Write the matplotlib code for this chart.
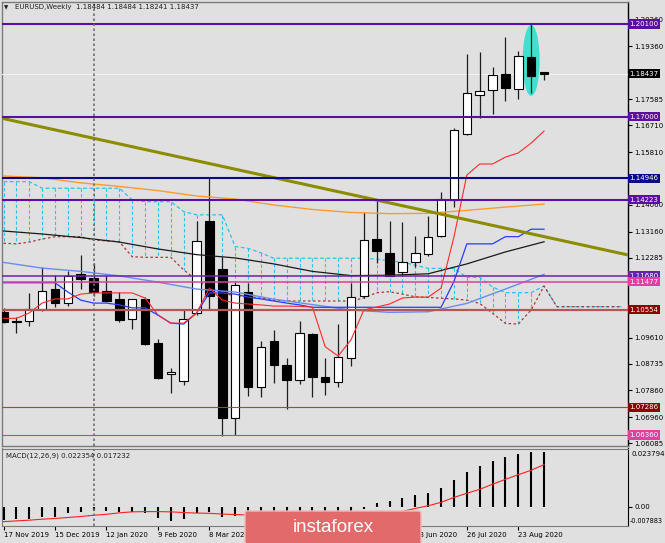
import matplotlib
matplotlib.use("Agg")
import matplotlib.pyplot as plt
import matplotlib.transforms as mtransforms
from matplotlib.patches import Rectangle, Ellipse, FancyBboxPatch

# ---------------- data ----------------
opens = [1.1048, 1.1017, 1.1018, 1.1056, 1.1123, 1.1078, 1.1173, 1.1160, 1.1116, 1.1092,
         1.1025, 1.1092, 1.0942, 1.0839, 1.0815, 1.1043, 1.1350, 1.1190, 1.0694, 1.1115,
         1.0798, 1.0950, 1.0870, 1.0820, 1.0974, 1.0831, 1.0814, 1.0892, 1.1102, 1.1290,
         1.1246, 1.1182, 1.1215, 1.1241, 1.1302, 1.1422, 1.1642, 1.1773, 1.1789, 1.1843,
         1.1793, 1.1901, 1.18484]
highs = [1.1060, 1.1031, 1.1112, 1.1197, 1.1172, 1.1185, 1.1237, 1.1212, 1.1170, 1.1115,
         1.1092, 1.1098, 1.0956, 1.0861, 1.1054, 1.1352, 1.1494, 1.1232, 1.1147, 1.1143,
         1.0951, 1.0987, 1.0892, 1.1017, 1.0976, 1.0893, 1.1007, 1.1143, 1.1383, 1.1422,
         1.1352, 1.1347, 1.1301, 1.1369, 1.1449, 1.1662, 1.1910, 1.1915, 1.1865, 1.1968,
         1.1921, 1.2011, 1.18484]
lows = [1.1010, 1.0978, 1.1000, 1.1052, 1.1063, 1.1067, 1.1125, 1.1101, 1.1082, 1.1015,
        1.0989, 1.0937, 1.0822, 1.0775, 1.0802, 1.1036, 1.1054, 1.0634, 1.0636, 1.0766,
        1.0764, 1.0809, 1.0722, 1.0805, 1.0762, 1.0770, 1.0798, 1.0867, 1.1093, 1.1210,
        1.1166, 1.1169, 1.1198, 1.1236, 1.1299, 1.1399, 1.1639, 1.1695, 1.1709, 1.1754,
        1.1759, 1.1780, 1.18241]
closes = [1.1015, 1.1014, 1.1056, 1.1116, 1.1078, 1.1169, 1.1156, 1.1115, 1.1085, 1.1020,
          1.1090, 1.0940, 1.0827, 1.0846, 1.1025, 1.1284, 1.1102, 1.0692, 1.1138, 1.0798,
          1.0931, 1.0870, 1.0820, 1.0978, 1.0831, 1.0814, 1.0898, 1.1097, 1.1288, 1.1252,
          1.1169, 1.1215, 1.1246, 1.1299, 1.1425, 1.1656, 1.1778, 1.1786, 1.1840, 1.1797,
          1.1904, 1.1836, 1.18437]

tenkan = [1.1026, 1.1026, 1.1044, 1.1077, 1.1091, 1.1091, 1.1107, 1.1111, 1.1111, 1.1111,
          1.1111, 1.1094, 1.1037, 1.1010, 1.1010, 1.1044, 1.1127, 1.1087, 1.1077, 1.1074,
          1.1071, 1.1067, 1.1067, 1.1066, 1.1064, 1.0931, 1.0900, 1.0954, 1.1054, 1.1064,
          1.1074, 1.1094, 1.1097, 1.1097, 1.1127, 1.1298, 1.1505, 1.1542, 1.1542, 1.1565,
          1.1579, 1.1612, 1.1652]
kijun = [1.1145, 1.1145, 1.1145, 1.1145, 1.1145, 1.1114, 1.1087, 1.1077, 1.1077, 1.1071,
         1.1061, 1.1061, 1.1037, 1.1010, 1.1007, 1.1044, 1.1111, 1.1111, 1.1107, 1.1097,
         1.1091, 1.1084, 1.1077, 1.1071, 1.1063, 1.1063, 1.1063, 1.1063, 1.1063, 1.1063,
         1.1063, 1.1063, 1.1063, 1.1063, 1.1063, 1.1149, 1.1275, 1.1275, 1.1275, 1.1299,
         1.1299, 1.1324, 1.1324]

span_a = [1.1483, 1.1483, 1.1483, 1.1461, 1.1461, 1.1461, 1.1461, 1.1461, 1.1461, 1.1461,
          1.1422, 1.1416, 1.1416, 1.1416, 1.1383, 1.1372, 1.1372, 1.1372, 1.1266, 1.1260,
          1.1245, 1.1227, 1.1227, 1.1227, 1.1227, 1.1227, 1.1227, 1.1227, 1.1227, 1.1224,
          1.1218, 1.1214, 1.1204, 1.1193, 1.1193, 1.1193, 1.1163, 1.1163, 1.1131, 1.1112,
          1.1112, 1.1112, 1.1134, 1.1065, 1.1065, 1.1065, 1.1065, 1.1065, 1.1065]
span_b = [1.1277, 1.1275, 1.1281, 1.1291, 1.1299, 1.1299, 1.1299, 1.1288, 1.1285, 1.1282,
          1.1232, 1.1230, 1.1230, 1.1230, 1.1188, 1.1154, 1.1127, 1.1111, 1.1101, 1.1098,
          1.1094, 1.1087, 1.1084, 1.1084, 1.1084, 1.1084, 1.1084, 1.1084, 1.1094, 1.1112,
          1.1115, 1.1107, 1.1098, 1.1096, 1.1093, 1.1091, 1.1087, 1.1076, 1.1043, 1.1009,
          1.1007, 1.1054, 1.1134, 1.1065, 1.1065, 1.1065, 1.1065, 1.1065, 1.1065]

ma_idx = [0, 3, 6, 9, 12, 15, 18, 21, 24, 27, 30, 33, 36, 39, 42]
ma_light = [1.1213, 1.1194, 1.1183, 1.1168, 1.1147, 1.1124, 1.1114, 1.1090, 1.1072, 1.1054,
            1.1046, 1.1048, 1.1076, 1.1124, 1.1173]
ma_black = [1.1318, 1.1308, 1.1296, 1.1281, 1.1258, 1.1239, 1.1228, 1.1208, 1.1183, 1.1169,
            1.1170, 1.1175, 1.1208, 1.1248, 1.1282]
ma_orange = [1.1502, 1.1496, 1.1479, 1.1467, 1.1453, 1.1435, 1.1425, 1.1405, 1.1390, 1.1380,
             1.1376, 1.1377, 1.1387, 1.1398, 1.1408]

trend_x = [-0.14, 48.52]
trend_y = [1.1695, 1.1238]

macd_main = [-0.0054, -0.0052, -0.0049, -0.0044, -0.0041, -0.0025, -0.0020, -0.0018, -0.0018, -0.0023,
             -0.0020, -0.0027, -0.0045, -0.0059, -0.0052, -0.0025, -0.0020, -0.0044, -0.0036, -0.0040,
             -0.0042, -0.0040, -0.0038, -0.0035, -0.0030, -0.0028, -0.0025, -0.0018, -0.0009, 0.0014,
             0.0023, 0.0037, 0.0048, 0.0057, 0.0075, 0.0109, 0.0140, 0.0166, 0.0188, 0.0202,
             0.0214, 0.0225, 0.022354]
macd_signal = [-0.0061, -0.0058, -0.0055, -0.0051, -0.0048, -0.0044, -0.0040, -0.0035, -0.0031, -0.0025,
               -0.0021, -0.0020, -0.0020, -0.0021, -0.0024, -0.0026, -0.0027, -0.0030, -0.0032, -0.0034,
               -0.0036, -0.0037, -0.0038, -0.0037, -0.0036, -0.0036, -0.0034, -0.0031, -0.0028, -0.0025,
               -0.0022, -0.0019, -0.0007, 0.0004, 0.0018, 0.0038, 0.0055, 0.0071, 0.0092, 0.0112,
               0.0131, 0.0149, 0.017232]

levels = [1.20100, 1.17000, 1.14946, 1.14223, 1.11680, 1.11477, 1.10554, 1.07286, 1.06360]
level_colors = ['#5a0fa0', '#5a0fa0', '#0a0a88', '#5a0fa0', '#6a22aa', '#d8409c', '#b05858', '#c03a3a', '#c8409c']
level_widths = [1.5, 1.5, 1.5, 1.5, 1.1, 1.1, 1.6, 0.8, 0.8]
box_colors = ['#5a0fa0', '#5a0fa0', '#0a0a88', '#5a0fa0', '#6a22aa', '#e040a0', '#8b0000', '#8b0000', '#e040a0']
current_price = 1.18437

price_ticks = [1.20260, 1.19360, 1.17585, 1.16710, 1.15810, 1.14060, 1.13160,
               1.12285, 1.09610, 1.08735, 1.07860, 1.06960, 1.06085]
date_ticks = [0, 4, 8, 12, 16, 20, 24, 28, 32, 36, 40]
date_labels = ['17 Nov 2019', '15 Dec 2019', '12 Jan 2020', '9 Feb 2020', '8 Mar 2020', '5 Apr 2020',
               '3 May 2020', '31 May 2020', '28 Jun 2020', '26 Jul 2020', '23 Aug 2020']
highlight_bar = 41
separator_bar = 7

# ---------------- figure ----------------
W, H = 665, 543
BG = '#e0e0e0'
fig = plt.figure(figsize=(W / 100, H / 100), dpi=100, facecolor=BG)
XL, XR = -0.1166, 48.524

ax = fig.add_axes([2 / W, 1 - 446 / H, 626 / W, 444 / H], facecolor=BG)
ax.set_xlim(XL, XR)
ax.set_ylim(1.05993, 1.20835)
ax.set_xticks([])
ax.yaxis.tick_right()
ax.set_yticks(price_ticks)
ax.set_yticklabels([f'{t:.5f}' for t in price_ticks])
ax.tick_params(axis='y', direction='out', length=3, width=0.8, pad=1.5, labelsize=5, colors='black')
for s in ['left', 'top', 'bottom']:
    ax.spines[s].set_color('#7a7a7a')
    ax.spines[s].set_linewidth(1.0)
ax.spines['right'].set_color('black')
ax.spines['right'].set_linewidth(1.0)

n = len(opens)
n_cloud = len(span_a)

# cloud
cyan = '#30c0f0'
for i in range(n_cloud):
    ax.plot([i, i], [span_a[i], span_b[i]], color=cyan, lw=0.8, ls=(0, (3, 2)), zorder=2)
ax.plot(range(n_cloud), span_a, color=cyan, lw=0.9, ls=(0, (3, 2)), zorder=2.1)
ax.plot(range(n_cloud), span_b, color='#a03a3a', lw=0.9, ls=(0, (2, 2)), zorder=2.1)

# current price line + highlight ellipse
ax.axhline(current_price, color='#f2f2fb', lw=0.8, zorder=3)
ax.add_patch(Ellipse((highlight_bar, 1.1888), width=1.32, height=0.0237,
                     facecolor='#40e0d0', edgecolor='none', zorder=3.5))

# candles
bw = 0.66
for i in range(n):
    o, h, l, c = opens[i], highs[i], lows[i], closes[i]
    ax.vlines(i, l, h, color='#1e1e1e', lw=0.9, zorder=4)
    bottom = min(o, c)
    height = max(abs(c - o), 0.00025)
    fc = 'white' if c >= o else 'black'
    ax.add_patch(Rectangle((i - bw / 2, bottom), bw, height, facecolor=fc,
                           edgecolor='black', lw=0.8, zorder=4.2))

# moving averages and ichimoku lines
ax.plot(ma_idx, ma_orange, color='#ff9a30', lw=1.0, zorder=5)
ax.plot(ma_idx, ma_black, color='#1a1a1a', lw=0.9, zorder=5)
ax.plot(ma_idx, ma_light, color='#6a8cf0', lw=1.0, zorder=5)
ax.plot(range(n), kijun, color='#2a3cff', lw=0.9, zorder=5.2)
ax.plot(range(n), tenkan, color='#ff2a2a', lw=0.8, zorder=5.3)

# trend line
ax.plot(trend_x, trend_y, color='#8c8c00', lw=2.2, zorder=6, solid_capstyle='butt')

# horizontal levels
tr = mtransforms.blended_transform_factory(ax.transAxes, ax.transData)
for lv, col, lw in zip(levels, level_colors, level_widths):
    ax.axhline(lv, color=col, lw=lw, zorder=6)
for lv, bc in zip(levels, box_colors):
    ax.text(1.0025, lv, f'{lv:.5f}', transform=tr, fontsize=5, color='white', va='center', ha='left',
            bbox=dict(boxstyle='square,pad=0.22', fc=bc, ec='none'), zorder=20, clip_on=False)
ax.text(1.0025, current_price, f'{current_price:.5f}', transform=tr, fontsize=5, color='white',
        va='center', ha='left', bbox=dict(boxstyle='square,pad=0.22', fc='black', ec='none'),
        zorder=20, clip_on=False)

ax.axvline(separator_bar, color='#6e6e6e', lw=1.2, ls=(0, (1.5, 1.5)), zorder=7)

# ---------------- MACD panel ----------------
ax2 = fig.add_axes([2 / W, 1 - 526 / H, 626 / W, 77.5 / H], facecolor=BG)
ax2.set_xlim(XL, XR)
ax2.set_ylim(-0.007883, 0.023794)
ax2.vlines(range(n), 0, macd_main, color='black', lw=1.5, zorder=3)
ax2.plot(range(n), macd_signal, color='#ff2020', lw=0.8, zorder=4)
ax2.axvline(separator_bar, color='#6e6e6e', lw=1.2, ls=(0, (1.5, 1.5)), zorder=5)
ax2.yaxis.tick_right()
ax2.set_yticks([0.0])
ax2.set_yticklabels(['0.00'])
ax2.tick_params(axis='y', direction='out', length=3, width=0.8, pad=1.5, labelsize=5, colors='black')
ax2.set_xticks(date_ticks)
ax2.set_xticklabels(date_labels)
for lab in ax2.get_xticklabels():
    lab.set_ha('left')
ax2.tick_params(axis='x', direction='out', length=3, width=0.8, pad=1.5, labelsize=5, colors='black')
for s in ['left', 'top', 'bottom']:
    ax2.spines[s].set_color('#7a7a7a')
ax2.spines['right'].set_color('black')
ax2.text(1.006, 1 - 2.5 / 77.5, '0.023794', transform=ax2.transAxes, fontsize=5, va='top', ha='left',
         clip_on=False)
ax2.text(1.002, 0.02, '-0.007883', transform=ax2.transAxes, fontsize=4.7, va='bottom', ha='left',
         clip_on=False)
fig.text(6 / W, 1 - 456 / H, 'MACD(12,26,9) 0.022354 0.017232', fontsize=5, va='center',
         ha='left', color='#202020', zorder=30)

# header
fig.text(4 / W, 1 - 7.5 / H, '\u25bc', fontsize=4, va='center', ha='left', color='#202020', zorder=30)
fig.text(15 / W, 1 - 7.5 / H, 'EURUSD,Weekly  1.18484 1.18484 1.18241 1.18437', fontsize=5,
         va='center', ha='left', color='#202020', zorder=30)

# watermark
wm = FancyBboxPatch((245 / W, -0.01), (421 - 245) / W, (543 - 511) / H + 0.01,
                    boxstyle='round,pad=0,rounding_size=0.004', transform=fig.transFigure,
                    facecolor='#e26a6a', edgecolor='#f3b8b8', lw=1.0, zorder=40)
fig.add_artist(wm)
fig.text(333 / W, 1 - 527 / H, 'instaforex', fontsize=13.5, family=['Liberation Sans', 'DejaVu Sans'],
         color='white', ha='center', va='center', zorder=41)

fig.savefig('out.png', dpi=100, facecolor=BG)
